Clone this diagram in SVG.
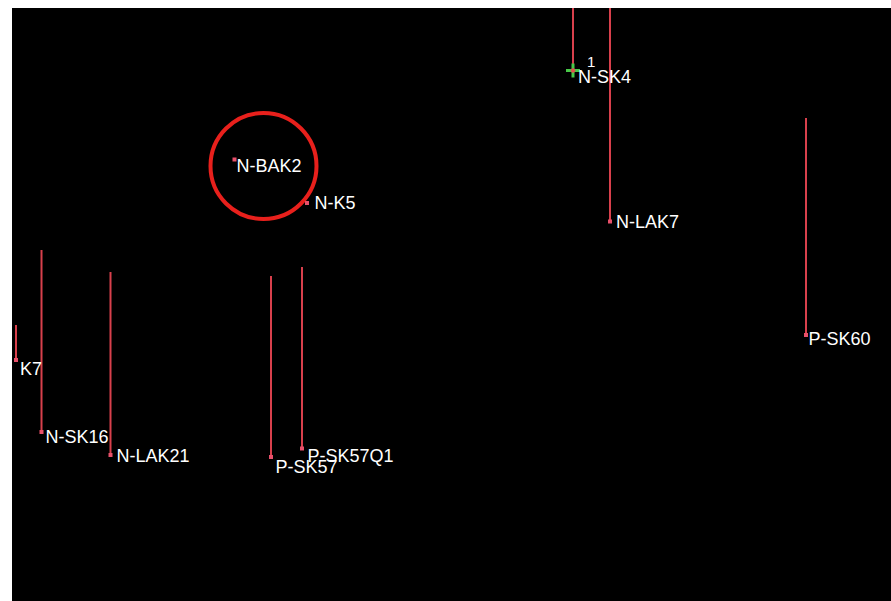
<svg xmlns="http://www.w3.org/2000/svg" width="891" height="601" viewBox="0 0 891 601">
<style>
.wire{stroke:#d8404c;stroke-width:2;fill:none}
.pt{fill:#e8506a}
.lbl{fill:#ffffff;font-family:"Liberation Sans",Arial,sans-serif;font-size:18px}
</style>
<rect x="0" y="0" width="891" height="601" fill="#ffffff"/>
<rect x="12" y="8" width="879" height="593" fill="#000000"/>
<g id="connectors">
<line class="wire" x1="573" y1="8" x2="573" y2="70"/>
<line class="wire" x1="610" y1="8" x2="610" y2="221"/>
<line class="wire" x1="806" y1="118" x2="806" y2="335"/>
<line class="wire" x1="16" y1="325" x2="16" y2="360"/>
<line class="wire" x1="41.5" y1="250" x2="41.5" y2="432"/>
<line class="wire" x1="110.5" y1="272" x2="110.5" y2="454"/>
<line class="wire" x1="271" y1="276" x2="271" y2="457"/>
<line class="wire" x1="302" y1="267" x2="302" y2="448"/>
</g>
<g id="highlight">
<circle cx="263.5" cy="166" r="53" fill="none" stroke="#e8201c" stroke-width="4"/>
</g>
<g id="N-SK4">
<path d="M566 70.5H580M573 63.5V77.5" stroke="#48c848" stroke-width="3"/>
<circle cx="573" cy="70.5" r="2.2" fill="#e0504a"/>
<text class="lbl" x="587" y="67" style="font-size:15px">1</text>
<text class="lbl" x="578" y="83">N-SK4</text>
</g>
<g id="N-BAK2">
<rect class="pt" x="232.5" y="157.5" width="4" height="4"/>
<text class="lbl" x="236.5" y="172">N-BAK2</text>
</g>
<g id="N-K5">
<rect class="pt" x="305" y="201" width="4" height="4"/>
<text class="lbl" x="314.5" y="209">N-K5</text>
</g>
<g id="N-LAK7">
<rect class="pt" x="608" y="219.5" width="4" height="4"/>
<text class="lbl" x="616" y="228">N-LAK7</text>
</g>
<g id="P-SK60">
<rect class="pt" x="804" y="333" width="4" height="4"/>
<text class="lbl" x="808.5" y="345">P-SK60</text>
</g>
<g id="K7">
<rect class="pt" x="14" y="358" width="4" height="4"/>
<text class="lbl" x="20" y="375">K7</text>
</g>
<g id="N-SK16">
<rect class="pt" x="39.5" y="430" width="4" height="4"/>
<text class="lbl" x="45.5" y="443">N-SK16</text>
</g>
<g id="N-LAK21">
<rect class="pt" x="108.5" y="453" width="4" height="4"/>
<text class="lbl" x="116.5" y="462">N-LAK21</text>
</g>
<g id="P-SK57">
<rect class="pt" x="269" y="455" width="4" height="4"/>
<text class="lbl" x="275.5" y="472.5">P-SK57</text>
</g>
<g id="P-SK57Q1">
<rect class="pt" x="300" y="446.5" width="4" height="4"/>
<text class="lbl" x="307.5" y="461.5">P-SK57Q1</text>
</g>
</svg>
